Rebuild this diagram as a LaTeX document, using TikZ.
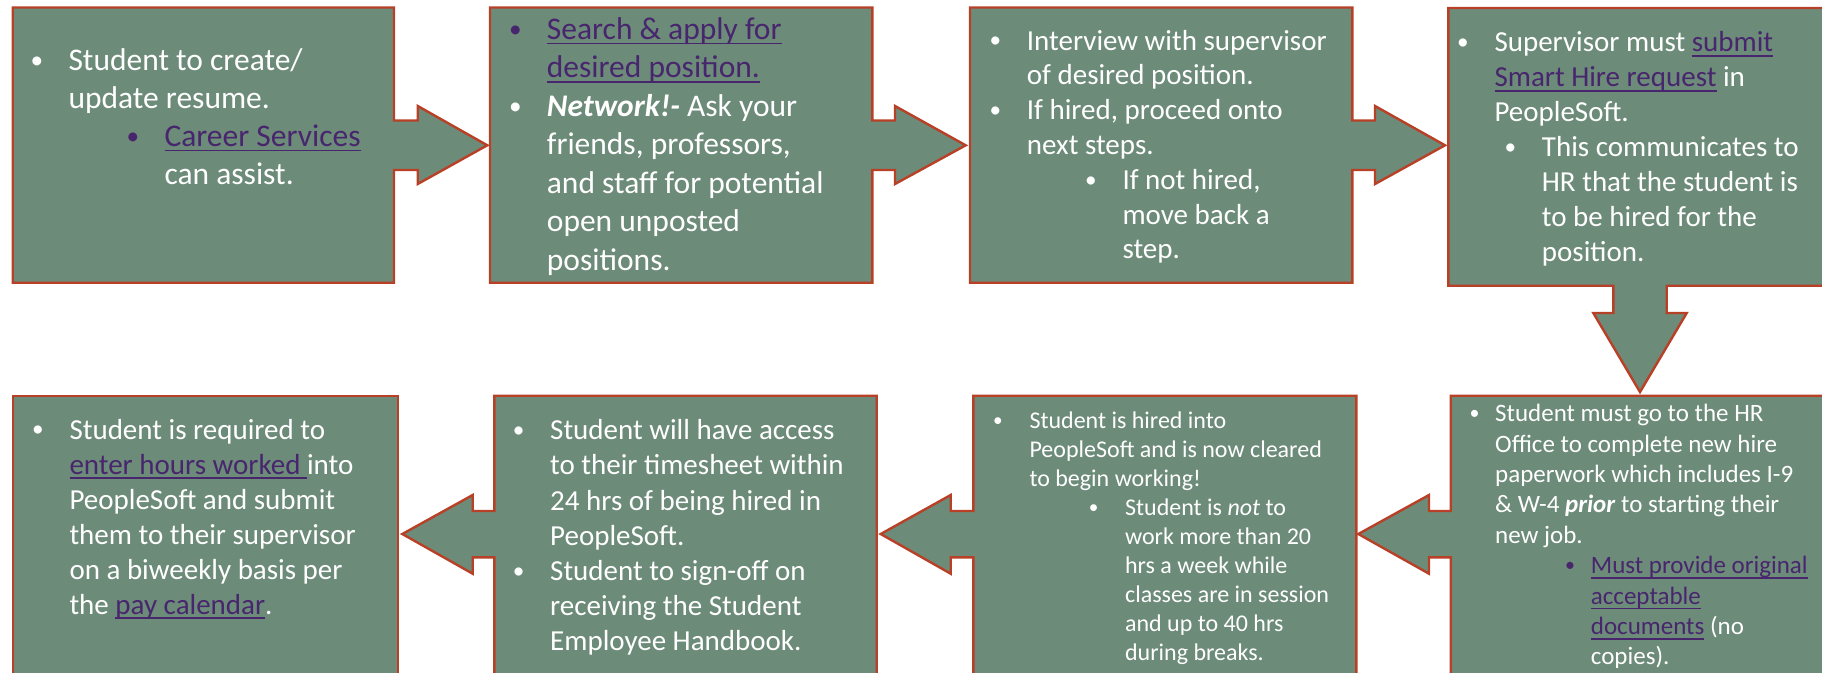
\documentclass[tikz,border=0pt]{standalone}
\usepackage{fontspec}
\setmainfont{Carlito}
\definecolor{boxfill}{RGB}{109,139,121}
\definecolor{boxline}{RGB}{184,64,38}
\definecolor{linkc}{RGB}{72,38,110}
\newlength\bdx
\setlength\bdx{31.5pt}
\newsavebox\lkbox
\newcommand\bu[1][white]{\leavevmode\llap{\textcolor{#1}{\makebox[0pt]{\raisebox{0.07em}{\scalebox{0.8}{\textbullet}}}}\hspace{\bdx}}}
\newcommand\lk[1]{\leavevmode{\color{linkc}\sbox\lkbox{#1}\rlap{\rule[-5pt]{\wd\lkbox}{1.6pt}}\usebox\lkbox}}
\newcommand\lines[1]{\parbox[t]{440pt}{\raggedright\setlength\parindent{0pt}#1}}
\tikzset{
  callout/.style={fill=boxfill, draw=boxline, line width=2.4pt, line join=miter},
  txt/.style={anchor=base west, inner sep=0pt, text=white},
}
\begin{document}
\begin{tikzpicture}[x=1pt,y=-1pt]
\useasboundingbox (0,0) rectangle (1822,672);
\clip (0,0) rectangle (1822,672);
% row 1
\path[callout] (12.7,7.5) -- (394,7.5) -- (394,120.5) -- (417.7,120.5) -- (417.7,106) -- (487.3,145.3) -- (417.7,184) -- (417.7,170) -- (394,170) -- (394,282.7) -- (12.7,282.7) -- cycle;
\path[callout] (490,7.5) -- (872.3,7.5) -- (872.3,120.5) -- (895,120.5) -- (895,106) -- (965.7,145.3) -- (895,184) -- (895,170) -- (872.3,170) -- (872.3,282.7) -- (490,282.7) -- cycle;
\path[callout] (970,7.5) -- (1352.3,7.5) -- (1352.3,120.5) -- (1375,120.5) -- (1375,106) -- (1445,145.3) -- (1375,184) -- (1375,170) -- (1352.3,170) -- (1352.3,282.7) -- (970,282.7) -- cycle;
\path[callout] (1448.3,8) -- (1832,8) -- (1832,285.7) -- (1666.7,285.7) -- (1666.7,313) -- (1686.7,313) -- (1640,392) -- (1593.3,313) -- (1613.3,313) -- (1613.3,285.7) -- (1448.3,285.7) -- cycle;
% row 2
\path[callout] (12.7,395.7) rectangle (397.7,676);
\path[callout] (494.3,395.7) -- (876.7,395.7) -- (876.7,676) -- (494.3,676) -- (494.3,557.3) -- (472.7,557.3) -- (472.7,573.7) -- (402.3,534) -- (472.7,495) -- (472.7,511) -- (494.3,511) -- cycle;
\path[callout] (973.3,395.7) -- (1356.3,395.7) -- (1356.3,676) -- (973.3,676) -- (973.3,557.3) -- (950.7,557.3) -- (950.7,573.7) -- (880.7,534) -- (950.7,495) -- (950.7,511) -- (973.3,511) -- cycle;
\path[callout] (1450.7,395.7) -- (1835,395.7) -- (1835,676) -- (1450.7,676) -- (1450.7,557.3) -- (1429,557.3) -- (1429,573.7) -- (1358.3,534) -- (1429,495) -- (1429,511) -- (1450.7,511) -- cycle;
% texts
\node[txt, font=\fontsize{31.5}{37.8}\selectfont] (tA) at (68.3,70.7) {\lines{%
\bu Student to create/\\
update resume.\\
\hspace*{96pt}\bu[linkc]\lk{Career Services}\\
\hspace*{96pt}can assist.}};
\node[txt, font=\fontsize{31.5}{38.5}\selectfont] (tB) at (546.7,39.3) {\lines{%
\bu[linkc]\lk{Search \& apply for}\\
\lk{desired position.}\\
\bu\textbf{\textit{Network!-}} Ask your\\
friends, professors,\\
and staff for potential\\
open unposted\\
positions.}};
\node[txt, font=\fontsize{29}{34.8}\selectfont] (tC) at (1026.7,50) {\lines{%
\bu Interview with supervisor\\
of desired position.\\
\bu If hired, proceed onto\\
next steps.\\
\hspace*{95.6pt}\bu If not hired,\\
\hspace*{95.6pt}move back a\\
\hspace*{95.6pt}step.}};
\node[txt, font=\fontsize{29}{35}\selectfont] (tD) at (1494.3,51.7) {\lines{%
\bu Supervisor must \lk{submit}\\
\lk{Smart Hire request} in\\
PeopleSoft.\\
\hspace*{47.4pt}\bu This communicates to\\
\hspace*{47.4pt}HR that the student is\\
\hspace*{47.4pt}to be hired for the\\
\hspace*{47.4pt}position.}};
\node[txt, font=\fontsize{29}{35}\selectfont] (tE) at (69.3,439) {\lines{%
\bu Student is required to\\
\lk{enter hours worked\ }into\\
PeopleSoft and submit\\
them to their supervisor\\
on a biweekly basis per\\
the \lk{pay calendar}.}};
\node[txt, font=\fontsize{29}{35.1}\selectfont] (tF) at (550,439.8) {\lines{%
\bu Student will have access\\
to their timesheet within\\
24 hrs of being hired in\\
PeopleSoft.\\
\bu Student to sign-off on\\
receiving the Student\\
Employee Handbook.}};
\node[txt, font=\fontsize{24}{29}\selectfont] (tG) at (1029.3,428) {\lines{%
\bu Student is hired into\\
PeopleSoft and is now cleared\\
to begin working!\\
\hspace*{95.6pt}\bu Student is \textit{not} to\\
\hspace*{95.6pt}work more than 20\\
\hspace*{95.6pt}hrs a week while\\
\hspace*{95.6pt}classes are in session\\
\hspace*{95.6pt}and up to 40 hrs\\
\hspace*{95.6pt}during breaks.}};
\node[txt, font=\fontsize{25}{30.4}\selectfont] (tH) at (1495,421.7) {\lines{\setlength\bdx{20.7pt}%
\bu Student must go to the HR\\
Office to complete new hire\\
paperwork which includes I-9\\
\& W-4 \textbf{\textit{prior}} to starting their\\
new job.\\
\hspace*{95.7pt}\bu[linkc]\lk{Must provide original}\\
\hspace*{95.7pt}\lk{acceptable}\\
\hspace*{95.7pt}\lk{documents} (no\\
\hspace*{95.7pt}copies).}};
\end{tikzpicture}
\end{document}
